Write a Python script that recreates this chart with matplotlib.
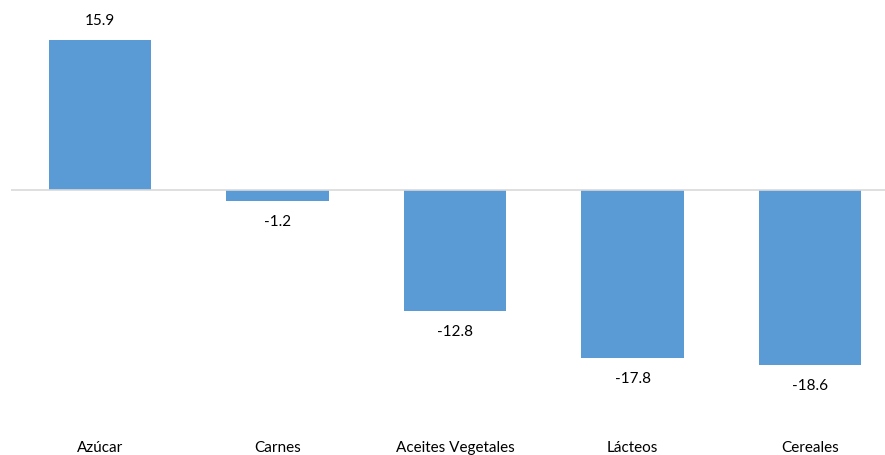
import matplotlib
matplotlib.use("Agg")
import matplotlib.pyplot as plt

categories = ["Azúcar", "Carnes", "Aceites Vegetales", "Lácteos", "Cereales"]
values = [15.9, -1.2, -12.8, -17.8, -18.6]
labels = ["15.9", "-1.2", "-12.8", "-17.8", "-18.6"]

plt.rcParams['font.family'] = ['Lato', 'DejaVu Sans']

W, H = 885, 455
fig = plt.figure(figsize=(W / 100, H / 100), dpi=100)
# axes in pixel coordinates
left_px, right_px = 11.25, 898.75
top_px, bot_px = 20, 400
ax = fig.add_axes([left_px / W, 1 - bot_px / H, (right_px - left_px) / W, (bot_px - top_px) / H])

color = "#5B9BD5"
x = list(range(len(categories)))
ax.bar(x, values, width=0.575, color=color, zorder=2)
ax.axhline(0, color="#D9D9D9", linewidth=1.2, zorder=3)

ppu = 150 / 15.9
ax.set_xlim(-0.5, 4.5)
ax.set_ylim(-(bot_px - 190) / ppu, (190 - top_px) / ppu)

for xi, v, lab in zip(x, values, labels):
    off = 14 if v >= 0 else -15
    ax.annotate(lab, (xi, v), xytext=(0, off), textcoords="offset points",
                ha="center", va="center", fontsize=11, color="#000000")

ax.set_xticks(x)
ax.set_xticklabels(categories, fontsize=11, color="#000000")
ax.tick_params(axis="x", length=0, pad=29.5)
ax.set_yticks([])
for s in ax.spines.values():
    s.set_visible(False)

fig.savefig("out.png", dpi=100, facecolor="white")
